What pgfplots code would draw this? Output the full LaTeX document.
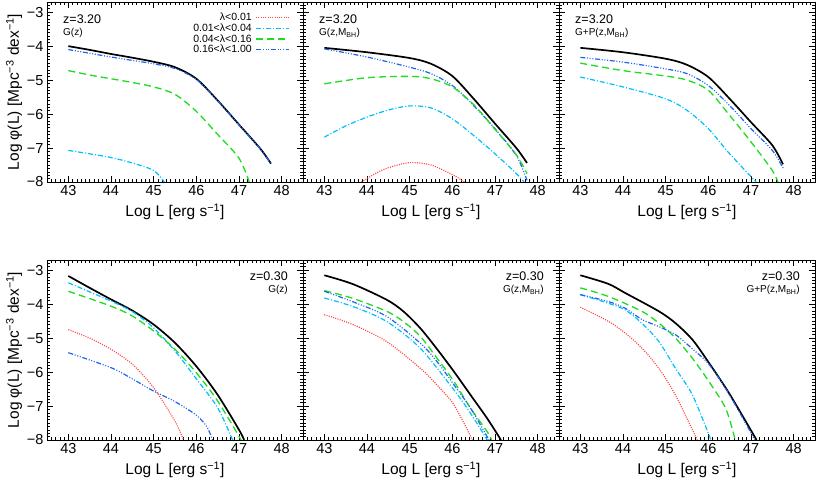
\documentclass[border=0pt]{standalone}
\usepackage{fontspec}
\setmainfont{Liberation Sans}
\usepackage{pgfplots}
\pgfplotsset{compat=1.18}
\definecolor{cred}{RGB}{255,70,70}
\definecolor{ccyan}{RGB}{0,191,255}
\definecolor{cgreen}{RGB}{30,220,30}
\definecolor{cblue}{RGB}{30,100,235}
\tikzset{
 sblack/.style={black, line width=1.7pt},
 sred/.style={cred, line width=1.2pt, dash pattern=on 1pt off 1.3pt},
 scyan/.style={ccyan, line width=1.2pt, dash pattern=on 5pt off 2pt on 1pt off 2pt},
 sgreen/.style={cgreen, line width=1.3pt, dash pattern=on 7pt off 4pt},
 sblue/.style={cblue, line width=1.2pt, dash pattern=on 5pt off 1.7pt on 1pt off 1.7pt on 1pt off 1.7pt on 1pt off 1.7pt},
}
\pgfplotsset{
 panel/.style={scale only axis, width=256pt, height=180pt,
  xmin=42.5, xmax=48.5, ymin=-8, ymax=-2.7,
  xtick={43,...,48}, ytick={-8,...,-3},
  minor xtick={42.5,42.6,...,48.5}, minor ytick={-8,-7.9,...,-2.7},
  tick align=inside, major tick length=6pt, minor tick length=3pt,
  tick style={black, line width=0.6pt},
  axis line style={line width=0.8pt},
  /pgf/number format/assume math mode=true,
  ticklabel style={font=\fontsize{14.5}{14.5}\selectfont},
  xlabel={Log L [erg s\textsuperscript{−1}]},
  xlabel style={font=\fontsize{15.5}{15.5}\selectfont, at={(axis description cs:0.5,-0.167)}, anchor=center},
  yticklabels={},
  every axis plot/.append style={smooth, tension=0.5},
 },
 leftpanel/.style={panel, yticklabels={−8,−7,−6,−5,−4,−3},
  ylabel={Log φ(L) [Mpc\textsuperscript{−3} dex\textsuperscript{−1}]},
  ylabel style={font=\fontsize{15.5}{15.5}\selectfont, at={(axis description cs:-0.129,0.5)}, anchor=center}},
}
\newcommand{\ann}[1]{\fontsize{12.5}{12.5}\selectfont #1}
\begin{document}
\begin{tikzpicture}
\path[use as bounding box] (0,0) rectangle (817pt,482pt);
% ---------- top left
\begin{axis}[leftpanel, at={(47pt,300pt)}, anchor=south west,
  legend style={draw=none, fill=none, at={(rel axis cs:1,1)}, anchor=north east, xshift=-10pt, yshift=-8pt,
   font=\fontsize{10.5}{10}\selectfont, nodes={inner sep=0.8pt}, column sep=3pt, cells={anchor=east}},
  legend plot pos=right,
  legend image code/.code={\draw[#1] (0pt,0pt) -- (33pt,0pt);}]
\addlegendimage{sred}\addlegendentry{λ<0.01}
\addlegendimage{scyan}\addlegendentry{0.01<λ<0.04}
\addlegendimage{sgreen}\addlegendentry{0.04<λ<0.16}
\addlegendimage{sblue}\addlegendentry{0.16<λ<1.00}
\addplot[sblack, forget plot] coordinates {(43,-4.00)(43.5,-4.11)(44,-4.23)(44.5,-4.34)(45,-4.46)(45.5,-4.62)(46,-4.96)(46.5,-5.60)(47,-6.31)(47.5,-7.02)(47.75,-7.46)};
\addplot[sblue, forget plot] coordinates {(43,-4.10)(43.5,-4.21)(44,-4.32)(44.5,-4.42)(45,-4.52)(45.5,-4.66)(46,-4.98)(46.5,-5.61)(47,-6.32)(47.5,-7.03)(47.75,-7.47)};
\addplot[sgreen, forget plot] coordinates {(43,-4.72)(43.5,-4.85)(44,-4.96)(44.5,-5.07)(45,-5.20)(45.5,-5.42)(46,-5.92)(46.5,-6.60)(47,-7.30)(47.24,-8.0)};
\addplot[scyan, forget plot] coordinates {(43,-7.07)(43.5,-7.17)(44,-7.28)(44.5,-7.44)(45,-7.66)(45.25,-8.0)};
\node[anchor=north west, align=left, inner sep=0pt, xshift=16pt, yshift=-13pt] at (rel axis cs:0,1) {\ann{z=3.20\\G(z)}};
\end{axis}
% ---------- top middle
\begin{axis}[panel, at={(303pt,300pt)}, anchor=south west]
\addplot[sblack] coordinates {(43,-4.05)(44,-4.18)(45,-4.35)(45.5,-4.52)(46,-4.88)(46.5,-5.55)(47,-6.28)(47.5,-7.00)(47.75,-7.44)};
\addplot[sblue] coordinates {(43,-4.08)(44,-4.32)(45,-4.62)(45.5,-4.81)(46,-5.16)(46.5,-5.75)(47,-6.43)(47.5,-7.22)(47.75,-7.95)};
\addplot[sgreen] coordinates {(43,-5.11)(44,-4.93)(45,-4.89)(45.5,-4.96)(46,-5.20)(46.5,-5.72)(47,-6.45)(47.5,-7.20)(47.75,-7.75)};
\addplot[scyan] coordinates {(43,-6.68)(43.5,-6.35)(44,-6.09)(44.5,-5.88)(45,-5.76)(45.5,-5.82)(46,-6.14)(46.5,-6.63)(47,-7.17)(47.5,-7.75)(47.68,-8.0)};
\addplot[sred] coordinates {(43.87,-8.0)(44.2,-7.75)(44.5,-7.58)(45,-7.43)(45.5,-7.5)(46,-7.78)(46.28,-8.0)};
\node[anchor=north west, align=left, inner sep=0pt, xshift=16pt, yshift=-13pt] at (rel axis cs:0,1) {\ann{z=3.20\\G(z,M\textsubscript{BH})}};
\end{axis}
% ---------- top right
\begin{axis}[panel, at={(559pt,300pt)}, anchor=south west]
\addplot[sblack] coordinates {(43,-4.05)(44,-4.18)(45,-4.37)(45.5,-4.55)(46,-4.91)(46.5,-5.55)(47,-6.24)(47.5,-6.92)(47.75,-7.48)};
\addplot[sblue] coordinates {(43,-4.33)(44,-4.47)(45,-4.67)(45.5,-4.81)(46,-5.16)(46.5,-5.75)(47,-6.43)(47.5,-7.07)(47.75,-7.59)};
\addplot[sgreen] coordinates {(43,-4.50)(44,-4.72)(45,-4.88)(45.5,-5.00)(46,-5.30)(46.5,-6.04)(47,-6.82)(47.5,-7.66)(47.63,-8.0)};
\addplot[scyan] coordinates {(43,-4.91)(44,-5.20)(45,-5.55)(45.5,-5.89)(46,-6.43)(46.5,-7.17)(47.12,-8.0)};
\node[anchor=north west, align=left, inner sep=0pt, xshift=16pt, yshift=-13pt] at (rel axis cs:0,1) {\ann{z=3.20\\G+P(z,M\textsubscript{BH})}};
\end{axis}
% ---------- bottom left
\begin{axis}[leftpanel, at={(47pt,42pt)}, anchor=south west]
\addplot[sblack] coordinates {(43,-3.17)(43.5,-3.52)(44,-3.86)(44.5,-4.19)(45,-4.60)(45.5,-5.14)(46,-5.83)(46.5,-6.67)(47,-7.70)(47.12,-8.0)};
\addplot[scyan] coordinates {(43,-3.37)(44,-3.91)(44.5,-4.22)(45,-4.70)(45.5,-5.38)(46,-6.20)(46.5,-7.05)(46.85,-8.0)};
\addplot[sgreen] coordinates {(43,-3.62)(44,-4.06)(44.5,-4.35)(45,-4.79)(45.5,-5.33)(46,-6.02)(46.5,-6.85)(47.05,-8.0)};
\addplot[sred] coordinates {(43,-4.75)(43.5,-5.00)(44,-5.33)(44.5,-5.77)(45,-6.46)(45.5,-7.45)(45.7,-8.0)};
\addplot[sblue] coordinates {(43,-5.43)(44,-5.87)(44.5,-6.20)(45,-6.56)(45.5,-6.87)(46,-7.27)(46.25,-7.62)(46.38,-8.0)};
\node[anchor=north east, align=right, inner sep=0pt, xshift=-15pt, yshift=-12pt] at (rel axis cs:1,1) {\ann{z=0.30\\G(z)}};
\end{axis}
% ---------- bottom middle
\begin{axis}[panel, at={(303pt,42pt)}, anchor=south west]
\addplot[sblack] coordinates {(43,-3.15)(43.67,-3.41)(44.46,-3.87)(44.85,-4.21)(45.25,-4.71)(45.64,-5.32)(46.04,-5.99)(46.43,-6.68)(46.82,-7.37)(47.14,-8.0)};
\addplot[sgreen] coordinates {(43,-3.60)(43.67,-3.83)(44.46,-4.21)(44.85,-4.51)(45.25,-4.95)(45.64,-5.59)(46.04,-6.28)(46.43,-7.07)(46.82,-7.76)(46.92,-8.0)};
\addplot[sblue] coordinates {(43,-3.62)(43.67,-3.93)(44.46,-4.36)(45.25,-5.15)(45.64,-5.69)(46.04,-6.38)(46.43,-7.07)(46.86,-8.0)};
\addplot[scyan] coordinates {(43,-3.82)(43.67,-4.07)(44.46,-4.51)(45.25,-5.30)(46.04,-6.53)(46.43,-7.22)(46.82,-8.0)};
\addplot[sred] coordinates {(43,-4.31)(43.67,-4.60)(44.46,-5.10)(45.25,-5.89)(45.64,-6.38)(46.04,-6.97)(46.47,-8.0)};
\node[anchor=north east, align=right, inner sep=0pt, xshift=-15pt, yshift=-12pt] at (rel axis cs:1,1) {\ann{z=0.30\\G(z,M\textsubscript{BH})}};
\end{axis}
% ---------- bottom right
\begin{axis}[panel, at={(559pt,42pt)}, anchor=south west]
\addplot[sblack] coordinates {(43,-3.15)(43.65,-3.40)(44.05,-3.67)(44.84,-4.21)(45.23,-4.56)(45.63,-5.05)(46.02,-5.74)(46.49,-6.63)(47.13,-8.0)};
\addplot[sgreen] coordinates {(43,-3.52)(43.65,-3.77)(44.44,-4.21)(44.84,-4.56)(45.23,-5.00)(45.63,-5.60)(46.02,-6.29)(46.41,-7.08)(46.63,-8.0)};
\addplot[scyan] coordinates {(43,-3.72)(43.65,-3.97)(44.05,-4.17)(44.44,-4.56)(44.84,-5.10)(45.23,-5.89)(45.63,-6.68)(46.06,-8.0)};
\addplot[sblue] coordinates {(43,-3.72)(43.65,-3.92)(44.05,-4.12)(44.44,-4.45)(44.84,-4.66)(45.23,-4.90)(45.63,-5.32)(46.02,-5.78)(46.49,-6.66)(47.09,-8.0)};
\addplot[sred] coordinates {(43,-4.09)(43.65,-4.50)(44.05,-4.85)(44.44,-5.29)(44.84,-5.89)(45.23,-6.68)(45.74,-8.0)};
\node[anchor=north east, align=right, inner sep=0pt, xshift=-15pt, yshift=-12pt] at (rel axis cs:1,1) {\ann{z=0.30\\G+P(z,M\textsubscript{BH})}};
\end{axis}
\end{tikzpicture}
\end{document}
